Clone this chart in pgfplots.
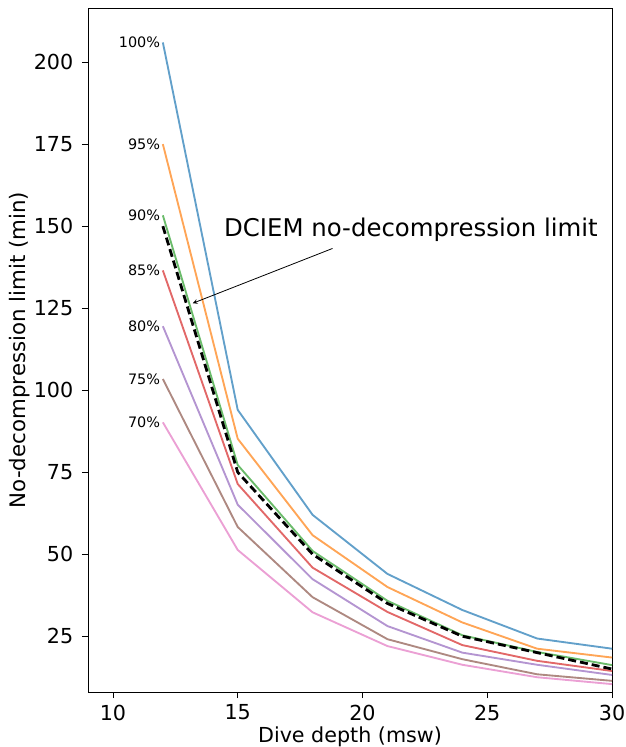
\documentclass[border=0pt]{standalone}
\usepackage{fontspec}
\setmainfont{DejaVu Sans}
\usepackage{pgfplots}
\pgfplotsset{compat=1.18}

\definecolor{c0}{RGB}{98,160,202}
\definecolor{c1}{RGB}{255,165,86}
\definecolor{c2}{RGB}{107,188,107}
\definecolor{c3}{RGB}{226,104,104}
\definecolor{c4}{RGB}{180,149,209}
\definecolor{c5}{RGB}{174,137,129}
\definecolor{c6}{RGB}{235,160,212}

\begin{document}
\begin{tikzpicture}
\begin{axis}[
  scale only axis, width=393pt, height=513pt,
  xmin=9, xmax=30, ymin=8, ymax=216.5,
  xtick={10,15,20,25,30}, ytick={25,50,75,100,125,150,175,200},
  tick align=outside, tick pos=left,
  major tick length=4.5pt,
  axis line style={line width=0.6pt},
  every tick/.style={black, line width=0.6pt},
  ticklabel style={font=\fontsize{15.5}{18}\selectfont},
  yticklabel style={xshift=-3pt},
  xticklabel style={yshift=-1.5pt},
  /pgf/number format/assume math mode=true,
  xlabel={Dive depth (msw)}, ylabel={No-decompression limit (min)},
  xlabel style={font=\fontsize{15.5}{18}\selectfont, at={(axis description cs:0.5,-0.0745)}, anchor=base},
  ylabel style={font=\fontsize{16}{18}\selectfont, at={(axis description cs:-0.1307,0.5)}, anchor=center},
  every axis plot/.append style={line width=1.4pt, mark=none},
  clip=false,
]
\addplot[c0] coordinates {(12,206) (15,94) (18,62) (21,44) (24,33) (27,24.3) (30,21.2)};
\addplot[c1] coordinates {(12,175) (15,85.2) (18,55.8) (21,40) (24,29.2) (27,21.2) (30,18.5)};
\addplot[c2] coordinates {(12,153.3) (15,77.2) (18,51) (21,35.8) (24,25.3) (27,20.2) (30,16.2)};
\addplot[c3] coordinates {(12,136.5) (15,71.4) (18,45.9) (21,32.4) (24,22.3) (27,17.5) (30,14.4)};
\addplot[c4] coordinates {(12,119.5) (15,65.1) (18,42.4) (21,28.1) (24,20) (27,16.3) (30,13.2)};
\addplot[c5] coordinates {(12,103.4) (15,58.3) (18,36.9) (21,24.1) (24,18) (27,13.4) (30,11.4)};
\addplot[c6] coordinates {(12,90.2) (15,51.3) (18,32.3) (21,22) (24,16.3) (27,12.5) (30,10.4)};
\addplot[black, line width=2.1pt, dash pattern=on 6pt off 3pt] coordinates {(12,150) (15,75) (18,50) (21,35) (24,25) (27,20) (30,15)};

\begin{scope}[every node/.style={anchor=east, font=\fontsize{10.8}{12}\selectfont, inner sep=0pt}]
\node at (axis cs:11.9,206) {100\%};
\node at (axis cs:11.9,175) {95\%};
\node at (axis cs:11.9,153.3) {90\%};
\node at (axis cs:11.9,136.5) {85\%};
\node at (axis cs:11.9,119.5) {80\%};
\node at (axis cs:11.9,103.4) {75\%};
\node at (axis cs:11.9,90.2) {70\%};
\end{scope}

\node[font=\fontsize{18.3}{20}\selectfont, inner sep=0pt, anchor=base] at (axis cs:21.94,146.8) {DCIEM no-decompression limit};
\draw[-stealth, line width=0.6pt] (axis cs:18.8,143.2) -- (axis cs:13.2,126.5);
\end{axis}
\pgfresetboundingbox
\useasboundingbox (current axis.south west) ++(-66pt,-41.25pt) rectangle ([xshift=9.75pt,yshift=6pt]current axis.north east);
\end{tikzpicture}
\end{document}
